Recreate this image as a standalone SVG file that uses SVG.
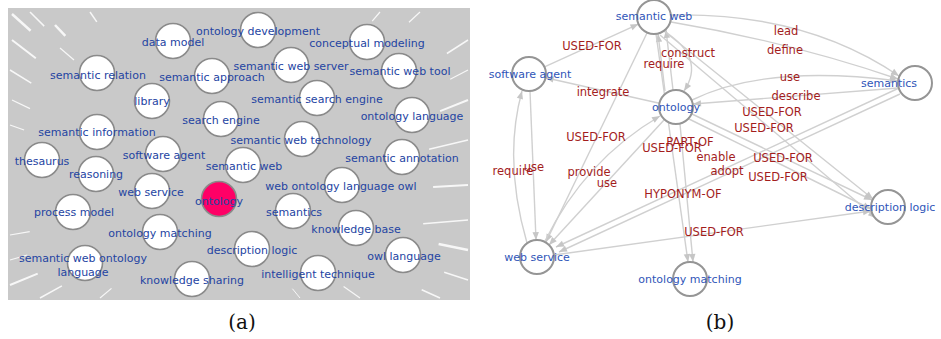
<svg xmlns="http://www.w3.org/2000/svg" width="941" height="339" viewBox="0 0 941 339">
  <style>
    .bg { fill: #c9c9c9; }
    .streak { stroke: #ffffff; stroke-linecap: butt; fill: none; opacity: 0.85; }
    .na { fill: #ffffff; stroke: #8a8a8a; stroke-width: 1.6; }
    .na-hot { fill: #ff0066; stroke: #8a8a8a; stroke-width: 1.6; }
    .ta { font-family: "DejaVu Sans", Verdana, sans-serif; font-size: 11px; fill: #2444a2; text-anchor: middle; }
    .nb { fill: #ffffff; stroke: #959595; stroke-width: 2; }
    .tb { font-family: "DejaVu Sans", Verdana, sans-serif; font-size: 11px; fill: #2f55b8; text-anchor: middle; }
    .edge { stroke: #d0d0d0; stroke-width: 1.4; fill: none; marker-end: url(#arr); }
    .el { font-family: "DejaVu Sans", Verdana, sans-serif; font-size: 11.5px; fill: #a31d1d; text-anchor: middle; }
    .cap { font-family: "DejaVu Serif", "Liberation Serif", serif; font-size: 20px; fill: #111111; text-anchor: middle; }
  </style>
  <defs>
    <marker id="arr" viewBox="0 0 10 10" refX="10" refY="5" markerWidth="9" markerHeight="8" orient="auto" markerUnits="userSpaceOnUse">
      <path d="M0,1 L10,5 L0,9 z" fill="#c6c6c6"/>
    </marker>
    <clipPath id="clipA">
      <rect x="8" y="8" width="462" height="292"/>
    </clipPath>
  </defs>

  <rect width="941" height="339" fill="#ffffff"/>

  <!-- (a) dense overview: gray field of overlapping edges -->
  <g id="panel-a">
    <rect class="bg" x="8" y="8" width="462" height="292"/>
    <g clip-path="url(#clipA)">
      <line class="streak" x1="30.6" y1="30.7" x2="12" y2="14" stroke-width="2.5"/>
      <line class="streak" x1="44.2" y1="26.1" x2="30" y2="12" stroke-width="1.5"/>
      <line class="streak" x1="35.8" y1="58.3" x2="12" y2="40" stroke-width="2"/>
      <line class="streak" x1="65.3" y1="35.9" x2="55" y2="25" stroke-width="2.5"/>
      <line class="streak" x1="31.3" y1="83.1" x2="10" y2="70" stroke-width="1.5"/>
      <line class="streak" x1="30" y1="108.6" x2="12" y2="100" stroke-width="1.2"/>
      <line class="streak" x1="96.8" y1="21.9" x2="90" y2="12" stroke-width="1.5"/>
      <line class="streak" x1="24.1" y1="130" x2="10" y2="125" stroke-width="1.2"/>
      <line class="streak" x1="74" y1="60" x2="60" y2="48" stroke-width="1.2"/>
      <line class="streak" x1="29.7" y1="231.6" x2="10" y2="235" stroke-width="1.2"/>
      <line class="streak" x1="37.7" y1="273.6" x2="10" y2="285" stroke-width="2"/>
      <line class="streak" x1="61.9" y1="285.9" x2="40" y2="298" stroke-width="1.5"/>
      <line class="streak" x1="27.3" y1="255" x2="10" y2="260" stroke-width="1.2"/>
      <line class="streak" x1="111.5" y1="288.4" x2="100" y2="298" stroke-width="1.2"/>
      <line class="streak" x1="446.9" y1="53.5" x2="468" y2="40" stroke-width="1.5"/>
      <line class="streak" x1="440.1" y1="111.1" x2="468" y2="100" stroke-width="2"/>
      <line class="streak" x1="429.1" y1="149.2" x2="468" y2="140" stroke-width="1.5"/>
      <line class="streak" x1="433.1" y1="187" x2="468" y2="185" stroke-width="2"/>
      <line class="streak" x1="423.2" y1="223.8" x2="468" y2="220" stroke-width="1.5"/>
      <line class="streak" x1="438.6" y1="244" x2="468" y2="250" stroke-width="2.5"/>
      <line class="streak" x1="444.2" y1="272.3" x2="468" y2="280" stroke-width="1.5"/>
      <line class="streak" x1="421.7" y1="289.8" x2="440" y2="298" stroke-width="1.5"/>
      <line class="streak" x1="450.2" y1="79.2" x2="468" y2="70" stroke-width="1.2"/>
      <line class="streak" x1="409" y1="22.2" x2="420" y2="12" stroke-width="1.2"/>
      <line class="streak" x1="372.2" y1="21.1" x2="380" y2="12" stroke-width="1.2"/>
      <line class="streak" x1="343.6" y1="286.5" x2="360" y2="298" stroke-width="1.2"/>
      <line class="streak" x1="292.4" y1="288.7" x2="300" y2="298" stroke-width="1"/>
    </g>

    <g id="a-data-model"><circle class="na" cx="173" cy="41" r="17.5"/><text class="ta" x="173" y="46">data model</text></g>
    <g id="a-ontology-development"><circle class="na" cx="258" cy="30" r="17.5"/><text class="ta" x="258" y="35">ontology development</text></g>
    <g id="a-conceptual-modeling"><circle class="na" cx="367" cy="42" r="17.5"/><text class="ta" x="367" y="47">conceptual modeling</text></g>
    <g id="a-semantic-relation"><circle class="na" cx="97" cy="73" r="17.5"/><text class="ta" x="98" y="79">semantic relation</text></g>
    <g id="a-semantic-approach"><circle class="na" cx="212" cy="76" r="17.5"/><text class="ta" x="212" y="81">semantic approach</text></g>
    <g id="a-semantic-web-server"><circle class="na" cx="291" cy="65" r="17.5"/><text class="ta" x="291" y="70">semantic web server</text></g>
    <g id="a-semantic-web-tool"><circle class="na" cx="399" cy="71" r="17.5"/><text class="ta" x="400" y="75">semantic web tool</text></g>
    <g id="a-library"><circle class="na" cx="152" cy="101" r="17.5"/><text class="ta" x="152" y="105">library</text></g>
    <g id="a-semantic-search-engine"><circle class="na" cx="317" cy="98" r="17.5"/><text class="ta" x="317" y="103">semantic search engine</text></g>
    <g id="a-search-engine"><circle class="na" cx="221" cy="119" r="17.5"/><text class="ta" x="221" y="124">search engine</text></g>
    <g id="a-ontology-language"><circle class="na" cx="412" cy="115" r="17.5"/><text class="ta" x="412" y="120">ontology language</text></g>
    <g id="a-semantic-information"><circle class="na" cx="97" cy="132" r="17.5"/><text class="ta" x="97" y="136">semantic information</text></g>
    <g id="a-semantic-web-technology"><circle class="na" cx="302" cy="139" r="17.5"/><text class="ta" x="301" y="144">semantic web technology</text></g>
    <g id="a-thesaurus"><circle class="na" cx="42" cy="160" r="17.5"/><text class="ta" x="42" y="165">thesaurus</text></g>
    <g id="a-software-agent"><circle class="na" cx="163" cy="154" r="17.5"/><text class="ta" x="164" y="159">software agent</text></g>
    <g id="a-semantic-annotation"><circle class="na" cx="402" cy="157" r="17.5"/><text class="ta" x="402" y="162">semantic annotation</text></g>
    <g id="a-semantic-web"><circle class="na" cx="243" cy="165" r="17.5"/><text class="ta" x="244" y="170">semantic web</text></g>
    <g id="a-reasoning"><circle class="na" cx="96" cy="174" r="17.5"/><text class="ta" x="96" y="178">reasoning</text></g>
    <g id="a-web-ontology-language-owl"><circle class="na" cx="342" cy="185" r="17.5"/><text class="ta" x="341" y="190">web ontology language owl</text></g>
    <g id="a-web-service"><circle class="na" cx="152" cy="191" r="17.5"/><text class="ta" x="151" y="196">web service</text></g>
    <g id="a-ontology"><circle class="na-hot" cx="219" cy="199" r="17.5"/><text class="ta" x="219" y="205">ontology</text></g>
    <g id="a-process-model"><circle class="na" cx="73" cy="212" r="17.5"/><text class="ta" x="74" y="216">process model</text></g>
    <g id="a-semantics"><circle class="na" cx="293" cy="211" r="17.5"/><text class="ta" x="294" y="216">semantics</text></g>
    <g id="a-knowledge-base"><circle class="na" cx="356" cy="228" r="17.5"/><text class="ta" x="356" y="233">knowledge base</text></g>
    <g id="a-ontology-matching"><circle class="na" cx="160" cy="232" r="17.5"/><text class="ta" x="160" y="237">ontology matching</text></g>
    <g id="a-description-logic"><circle class="na" cx="252" cy="249" r="17.5"/><text class="ta" x="252" y="254">description logic</text></g>
    <g id="a-semantic-web-ontology-language"><circle class="na" cx="85" cy="263" r="17.5"/><text class="ta" x="83" y="262">semantic web ontology</text><text class="ta" x="83" y="276">language</text></g>
    <g id="a-owl-language"><circle class="na" cx="403" cy="255" r="17.5"/><text class="ta" x="404" y="260">owl language</text></g>
    <g id="a-intelligent-technique"><circle class="na" cx="318" cy="273" r="17.5"/><text class="ta" x="318" y="278">intelligent technique</text></g>
    <g id="a-knowledge-sharing"><circle class="na" cx="192" cy="279" r="17.5"/><text class="ta" x="192" y="284">knowledge sharing</text></g>

    <text class="cap" x="242" y="329">(a)</text>
  </g>

  <!-- (b) labelled relations around "ontology" -->
  <g id="connectors">
    <line class="edge" x1="544.5" y1="66.9" x2="638.5" y2="24.1"/>
    <line class="edge" x1="659.4" y1="103.3" x2="545.6" y2="77.7"/>
    <path class="edge" d="M664,31 Q706,58 684,91"/>
    <line class="edge" x1="665" y1="91" x2="658" y2="34"/>
    <line class="edge" x1="673" y1="90" x2="666" y2="30"/>
    <line class="edge" x1="656" y1="34" x2="688" y2="262"/>
    <line class="edge" x1="680" y1="124" x2="693" y2="262"/>
    <line class="edge" x1="647" y1="33" x2="546" y2="242"/>
    <line class="edge" x1="664" y1="120" x2="549" y2="245"/>
    <path class="edge" d="M545,241 Q585,160 660,116"/>
    <line class="edge" x1="530" y1="91" x2="536" y2="240"/>
    <path class="edge" d="M527,243 Q503,160 522,91"/>
    <path class="edge" d="M671,15 Q805,12 899,76"/>
    <path class="edge" d="M671,22 Q790,42 898,79"/>
    <path class="edge" d="M692,100 Q765,64 898,81"/>
    <line class="edge" x1="898" y1="88" x2="693" y2="104"/>
    <line class="edge" x1="664" y1="31" x2="873" y2="199"/>
    <line class="edge" x1="660" y1="35" x2="876" y2="218"/>
    <line class="edge" x1="692" y1="114" x2="872" y2="200"/>
    <line class="edge" x1="689" y1="119" x2="871" y2="209"/>
    <line class="edge" x1="899" y1="88" x2="556" y2="247"/>
    <line class="edge" x1="900" y1="94" x2="559" y2="252"/>
    <line class="edge" x1="554" y1="255" x2="871" y2="211"/>

    <text class="el" x="592" y="50">USED-FOR</text>
    <text class="el" x="688" y="57">construct</text>
    <text class="el" x="664" y="68">require</text>
    <text class="el" x="786" y="35">lead</text>
    <text class="el" x="785" y="54">define</text>
    <text class="el" x="790" y="81">use</text>
    <text class="el" x="796" y="100">describe</text>
    <text class="el" x="772" y="116">USED-FOR</text>
    <text class="el" x="764" y="132">USED-FOR</text>
    <text class="el" x="603" y="96">integrate</text>
    <text class="el" x="596" y="141">USED-FOR</text>
    <text class="el" x="690" y="146">PART-OF</text>
    <text class="el" x="672" y="152">USED-FOR</text>
    <text class="el" x="716" y="161">enable</text>
    <text class="el" x="727" y="175">adopt</text>
    <text class="el" x="783" y="162">USED-FOR</text>
    <text class="el" x="778" y="181">USED-FOR</text>
    <text class="el" x="683" y="198">HYPONYM-OF</text>
    <text class="el" x="714" y="236">USED-FOR</text>
    <text class="el" x="513" y="175">require</text>
    <text class="el" x="534" y="171">use</text>
    <text class="el" x="589" y="176">provide</text>
    <text class="el" x="607" y="187">use</text>
  </g>

  <g id="b-semantic-web"><circle class="nb" cx="654" cy="17" r="17"/><text class="tb" x="654" y="20">semantic web</text></g>
  <g id="b-software-agent"><circle class="nb" cx="529" cy="74" r="17"/><text class="tb" x="530" y="78">software agent</text></g>
  <g id="b-ontology"><circle class="nb" cx="676" cy="107" r="17"/><text class="tb" x="676" y="111">ontology</text></g>
  <g id="b-semantics"><circle class="nb" cx="915" cy="83" r="17"/><text class="tb" x="889" y="87" text-anchor="start">semantics</text></g>
  <g id="b-web-service"><circle class="nb" cx="537" cy="257" r="17"/><text class="tb" x="537" y="261">web service</text></g>
  <g id="b-ontology-matching"><circle class="nb" cx="690" cy="279" r="17"/><text class="tb" x="690" y="283">ontology matching</text></g>
  <g id="b-description-logic"><circle class="nb" cx="888" cy="207" r="17"/><text class="tb" x="890" y="211">description logic</text></g>

  <text class="cap" x="720" y="329">(b)</text>
</svg>
